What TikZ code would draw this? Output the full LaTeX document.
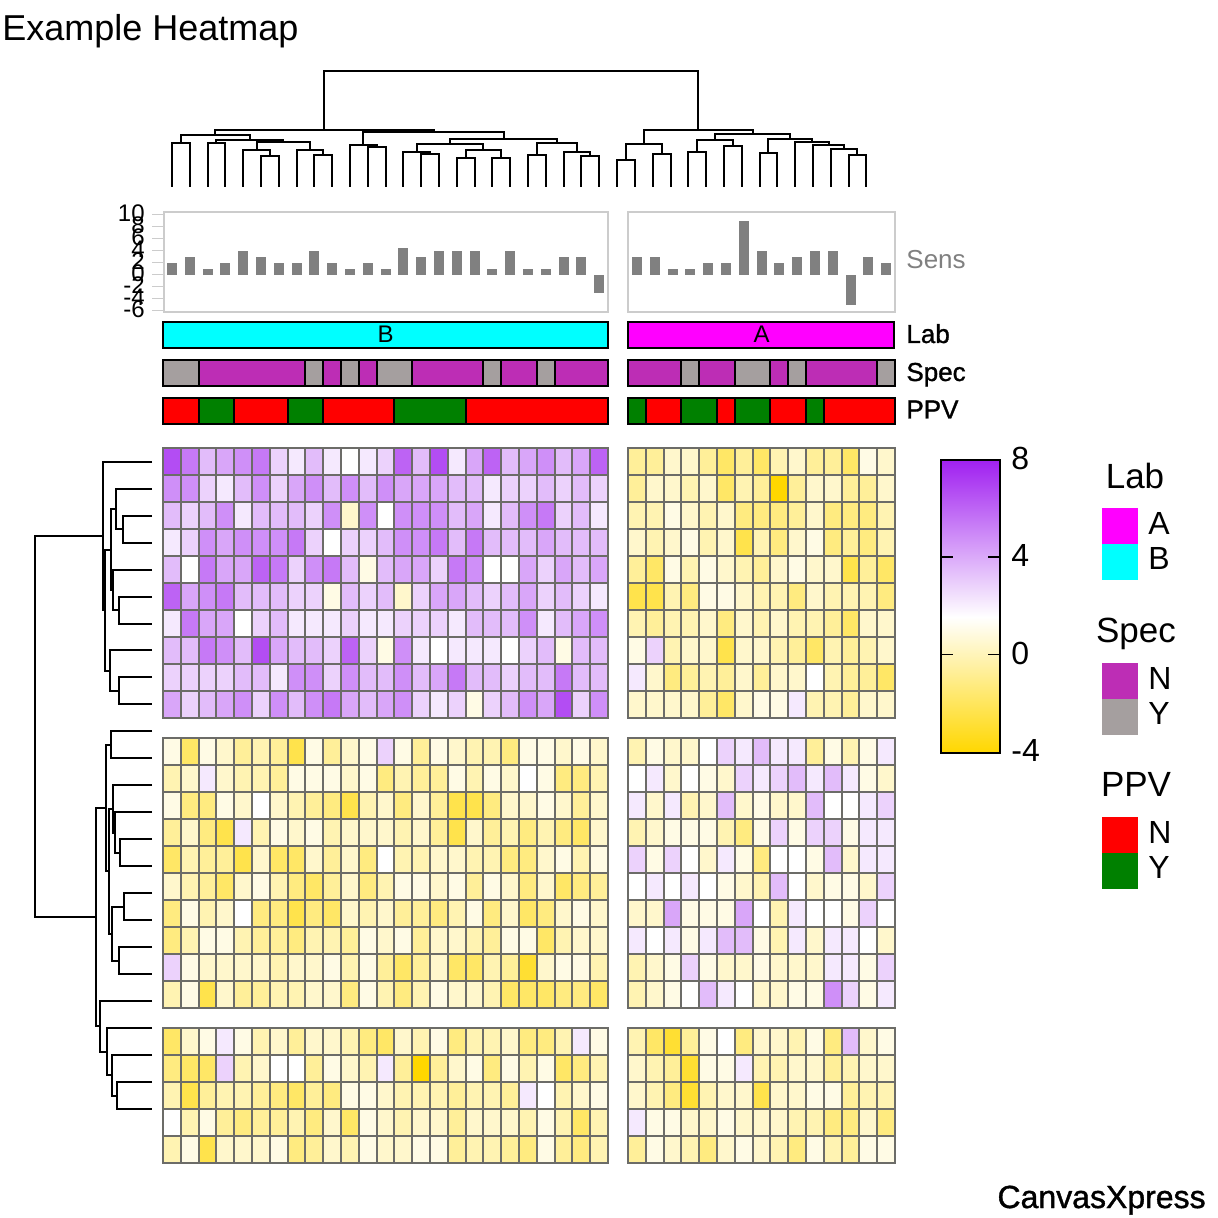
\documentclass[tikz,border=0pt]{standalone}
\usepackage{fontspec}
\setmainfont{Liberation Sans}
\newfontfamily\heavyfont[FakeBold=1.2]{Liberation Sans}

\definecolor{hpurple}{HTML}{A020F0}
\definecolor{hgold}{HTML}{FFD700}
\definecolor{cellgrey}{HTML}{6C6C68}
\definecolor{labA}{HTML}{FF00FF}
\definecolor{labB}{HTML}{00FFFF}
\definecolor{specN}{HTML}{BD2DB5}
\definecolor{specY}{HTML}{A59F9F}
\definecolor{ppvN}{HTML}{FF0000}
\definecolor{ppvY}{HTML}{008000}
\definecolor{framegrey}{HTML}{CCCCCC}
\definecolor{bargrey}{HTML}{808080}

\tikzset{
    dendro/.style={line width=1pt},
    annot/.style={draw=black, line width=1pt},
    sensframe/.style={draw=framegrey, line width=1pt},
    txt/.style={inner sep=0pt, anchor=base west},
}

% one block of the heatmap: left, top, rows (level -10..10, below 0 is gold)
\newcommand{\heatblock}[3]{
    \foreach \row [count=\r from 0] in {#3} {
        \foreach \v [count=\c from 0] in \row {
            \pgfmathtruncatemacro{\lvl}{abs(\v)*10}
            \ifnum\v<0 \def\hue{hgold}\else \def\hue{hpurple}\fi
            \filldraw[fill=\hue!\lvl!white, draw=cellgrey, line width=1pt]
                ({#1+17.8*\c},{#2+27*\r}) rectangle ({#1+17.8*(\c+1)},{#2+27*(\r+1)});
        }
    }
}
% one annotation strip: left, top, bottom, segments first/last/colour
\newcommand{\annotbar}[4]{
    \foreach \a/\b/\col in {#4}
        \filldraw[annot, fill=\col] ({#1+17.8*\a},#2) rectangle ({#1+17.8*\b},#3);
}
% bars of the Sens panel: left, values
\newcommand{\sensbars}[2]{
    \foreach \v [count=\c from 0] in {#2}
        \fill[bargrey] ({#1+8.9+17.8*\c-5},274.7) rectangle ({#1+8.9+17.8*\c+5},{274.7-6*\v});
}

\begin{document}
\begin{tikzpicture}[x=0.5pt, y=-0.5pt]
    \useasboundingbox (0,0) rectangle (1218,1218);

    % title
    \node[txt] (title) at (2,41) {\fontsize{18pt}{20pt}\selectfont Example Heatmap};
    \node[txt, anchor=base east] (brand) at (1206,1208) {\fontsize{16pt}{18pt}\heavyfont CanvasXpress};

    % column dendrogram
    \foreach \xa/\ya/\xb/\yb/\yt in {
        324/130/698/129.7/70.7,
        215/135/433.5/131.7/130, 181/143/249.5/140/135,
        172/187/190/187/143, 207.5/187/225/187/143,
        216/143/283/142/140, 256.5/150/310/150/142,
        243.1/187/269.8/156/150, 260.9/187/278.7/187/156,
        296.5/187/323.2/155/150, 314.3/187/332.1/187/155,
        363/145/504/139/131.7, 349.9/187/376.6/147/145, 367.7/187/385.5/187/147,
        450/144/557/143/139, 416.6/151.7/483.4/150/144,
        403.3/187/430/153.7/151.7, 421.1/187/438.9/187/153.7,
        465.6/158/501.2/158/150, 456.7/187/474.5/187/158, 492.3/187/510.1/187/158,
        536.8/155/577/152.3/143, 527.9/187/545.7/187/155,
        563.5/187/590.2/155.7/152.3, 581.3/187/599.1/187/155.7,
        643.8/143.7/752.7/134.3/129.7, 626/160/661.6/153.7/143.7,
        617/187/635/187/160, 652.7/187/670.5/187/153.7,
        715/140.3/790/138.7/134.3, 697/151.7/733/146.3/140.3,
        688.3/187/706.1/187/151.7, 723.9/187/741.7/187/146.3,
        768.4/153.3/811.8/142/138.7, 759.5/187/777.3/187/153.3,
        795.1/187/828.5/145.3/142, 812.9/187/844/148.7/145.3,
        830.7/187/857.4/155.3/148.7, 848.5/187/866.3/187/155.3}
        \draw[dendro] (\xa,\ya) -- (\xa,\yt) -- (\xb,\yt) -- (\xb,\yb);

    % Sens panel
    \draw[sensframe] (163.5,212.5) rectangle (608,312.5);
    \draw[sensframe] (628,212.5) rectangle (895,312.5);
    \foreach \lab [count=\i from 0] in {10,8,6,4,2,0,-2,-4,-6} {
        \draw[framegrey, line width=0.8pt] (152,{214.7+12*\i}) -- (163,{214.7+12*\i});
        \node[inner sep=0pt, anchor=mid east] (tick\i) at (145,{216.7+12*\i}) {\fontsize{12pt}{14pt}\selectfont \lab};
    }
    \sensbars{163}{2,3,1,2,4,3,2,2,4,2,1,2,1,4.5,3,4,4,4,1,4,1,1,3,3,-3}
    \sensbars{628}{3,3,1,1,2,2,9,4,2,3,4,4,-5,3,2}
    \node[txt, bargrey] (senslab) at (906,269) {\fontsize{13pt}{15pt}\selectfont Sens};

    % Lab strip
    \filldraw[annot, fill=labB] (163,321.7) rectangle (608,347.7);
    \filldraw[annot, fill=labA] (628,321.7) rectangle (894,347.7);
    \node[txt, anchor=base] (labBtext) at (385.7,342.7) {\fontsize{12pt}{14pt}\selectfont B};
    \node[txt, anchor=base] (labAtext) at (761.7,342.7) {\fontsize{12pt}{14pt}\selectfont A};
    \node[txt] (lablab) at (906,343) {\fontsize{13pt}{15pt}\heavyfont Lab};

    % Spec strip
    \annotbar{163}{360}{386}{0/2/specY, 2/8/specN, 8/9/specY, 9/10/specN, 10/11/specY, 11/12/specN,
        12/14/specY, 14/18/specN, 18/19/specY, 19/21/specN, 21/22/specY, 22/25/specN}
    \annotbar{628}{360}{386}{0/3/specN, 3/4/specY, 4/6/specN, 6/8/specY, 8/9/specN, 9/10/specY, 10/14/specN, 14/15/specY}
    \draw[line width=1.4pt] (305,360) -- (305,386);
    \node[txt] (speclab) at (906,381) {\fontsize{13pt}{15pt}\heavyfont Spec};

    % PPV strip
    \annotbar{163}{398}{424}{0/2/ppvN, 2/4/ppvY, 4/7/ppvN, 7/9/ppvY, 9/13/ppvN, 13/17/ppvY, 17/25/ppvN}
    \annotbar{628}{398}{424}{0/1/ppvY, 1/3/ppvN, 3/5/ppvY, 5/6/ppvN, 6/8/ppvY, 8/10/ppvN, 10/11/ppvY, 11/15/ppvN}
    \node[txt] (ppvlab) at (906,418.5) {\fontsize{13pt}{15pt}\heavyfont PPV};

    % row dendrogram
    \foreach \ya/\xa/\yb/\xb/\xt in {
        536/102.7/917/96/34.7,
        461.7/152/610/105.3/102.7, 549.5/111/670.5/110.3/105.3,
        509/116.3/590/113/111, 488.5/152/529/123.3/116.3, 515.7/152/542.7/152/123.3,
        569.7/152/610/119.3/113, 596.7/152/623.7/152/119.3,
        650.3/152/690.8/118.7/110.3, 677.3/152/704.3/152/118.7,
        807.7/106/1026/100/96,
        744.7/111/871/108.7/106, 731/152/758.3/152/111,
        809/112.7/933.6/111.7/108.7, 785.3/152/832.5/115/112.7,
        812.3/152/852.8/119.7/115, 839.3/152/866.3/152/119.7,
        906.7/124/960.5/119.3/111.7, 893.3/152/920/152/124, 947/152/974/152/119.3,
        1001.3/152/1051.6/106.7/100, 1028.3/152/1075/111.7/106.7,
        1055/152/1095.5/117/111.7, 1082/152/1109/152/117}
        \draw[dendro] (\xa,\ya) -- (\xt,\ya) -- (\xt,\yb) -- (\xb,\yb);

    % heatmap
    \heatblock{163}{448}{
        {8,6,3,4,5,6,2,1,3,1,0,1,2,7,3,8,1,4,7,3,4,5,3,4,7},
        {5,5,2,1,3,5,2,4,5,3,5,3,5,4,4,4,3,3,1,2,2,3,2,3,2},
        {3,2,3,5,1,3,3,3,2,5,-2,5,0,5,5,5,3,4,1,3,5,6,2,3,1},
        {1,2,5,4,5,5,5,6,2,0,2,2,3,5,5,6,3,6,3,3,3,4,3,3,3},
        {3,0,6,4,4,7,6,2,5,6,3,-1,3,4,4,2,6,5,0,0,4,2,4,3,4},
        {7,4,5,6,3,3,3,2,2,-1,3,2,3,-2,2,4,4,3,2,3,4,2,3,2,1},
        {1,6,4,4,0,2,3,1,1,1,2,1,1,2,2,2,1,3,3,3,5,1,3,4,5},
        {3,3,6,5,3,8,4,3,3,2,7,2,-1,5,1,0,1,1,1,0,2,3,-1,3,3},
        {2,2,2,2,3,3,1,5,5,2,5,3,3,5,3,4,6,3,3,2,3,3,6,3,3},
        {4,2,3,4,5,2,5,3,5,6,4,3,4,5,2,1,2,-1,2,3,5,4,8,2,5}}
    \heatblock{628}{448}{
        {-4,-4,-2,-2,-4,-6,-4,-6,-3,-2,-4,-4,-6,-1,-2},
        {-4,-2,-2,-3,-2,-6,-3,-4,-10,-4,-2,-2,-4,-4,-2},
        {-3,-3,-1,-2,-3,-2,-5,-5,-5,-4,-2,-5,-5,-5,-3},
        {-2,-3,-2,-1,-3,-2,-7,-3,-5,-2,-1,-5,-4,-5,-3},
        {-4,-6,-1,-3,-1,-2,-3,-4,-2,-1,-2,-2,-7,-4,-6},
        {-7,-7,-3,-5,-1,-1,-2,-3,-3,-5,-2,-3,-3,-3,-5},
        {-3,-4,-3,-3,-2,-5,-2,-3,-2,-3,-3,-4,-6,-2,-2},
        {-1,2,-3,-2,-2,-7,-2,-2,-3,-4,-6,-3,-4,-3,-2},
        {1,-2,-5,-4,-3,-4,-2,-4,-2,-2,0,-3,-4,-4,-6},
        {-2,-2,-2,-2,-4,-6,-2,-1,-1,1,-3,-3,-4,-2,-2}}
    \heatblock{163}{738}{
        {-1,-6,-1,-2,-4,-3,-4,-7,-1,-4,-2,-1,2,-1,-4,-1,-2,-3,-3,-5,-1,-1,-2,-1,-2},
        {-3,-2,1,-2,-3,-3,-4,-1,-1,-1,-2,-1,-5,-3,-4,-4,-1,-3,-1,-2,0,-1,-5,-5,-3},
        {-1,-5,-5,-1,-2,0,-2,-3,-4,-5,-7,-3,-2,-5,-2,-4,-7,-7,-5,-2,-2,-1,-2,-4,-2},
        {-4,-2,-5,-7,1,-3,-1,-2,-1,-3,-2,-2,-2,-3,-2,-4,-7,-2,-4,-3,-5,-3,-5,-6,-2},
        {-6,-3,-4,-4,-7,-2,-6,-6,-2,-4,-2,-5,0,-3,-3,-2,-2,-3,-3,-5,-5,-2,-1,-3,-1},
        {-2,-3,-4,-6,-2,-1,-3,-5,-6,-4,-2,-5,-3,-1,-1,-2,-1,-4,-1,-2,-5,-2,-6,-5,-4},
        {-5,-1,-3,-2,0,-5,-5,-7,-5,-6,-2,-3,-2,-4,-4,-5,-3,-1,-5,-2,-6,-5,-2,-1,-2},
        {-5,-3,-1,-1,-3,-4,-4,-5,-3,-3,-4,-1,-2,-1,-4,-2,-2,-3,-4,-1,-1,-6,-3,-2,-2},
        {2,-1,-2,-2,-2,-2,-3,-2,-2,-1,-3,-1,-4,-6,-4,-2,-6,-6,-3,-4,-8,-2,-1,-1,-3},
        {-3,-1,-7,-2,-4,-4,-3,-3,-2,-2,-5,-1,-3,-5,-3,-1,-2,-2,-3,-6,-6,-6,-5,-5,-6}}
    \heatblock{628}{738}{
        {-3,-1,-2,-2,0,2,1,3,1,1,-4,-1,-3,-1,1},
        {0,1,-2,0,-1,-2,2,1,2,3,1,3,1,-1,-2},
        {1,-2,1,-3,-2,3,-2,-1,-2,-2,3,0,0,1,2},
        {-3,-2,-1,-1,-1,-3,-5,-1,2,-1,2,2,-1,1,1},
        {2,-1,2,0,-2,1,-1,-5,0,0,-1,3,-2,1,1},
        {0,1,0,1,0,-1,-2,-3,3,0,-2,-1,-1,-2,2},
        {-2,-2,4,-1,-1,-1,4,0,-3,1,0,0,-1,2,0},
        {1,0,1,-1,1,3,3,-1,-3,1,-2,1,1,0,-2},
        {-3,-2,-1,2,-1,-2,-2,-1,-2,-2,-2,1,1,-1,2},
        {-3,-2,-1,0,3,1,0,-2,-2,-1,-1,5,2,-1,1}}
    \heatblock{163}{1028}{
        {-6,-2,-1,1,-1,-3,-2,-4,-2,-2,-3,-5,-6,-2,-3,-1,-5,-3,-3,-2,-5,-5,-3,1,-1},
        {-5,-6,-6,2,-3,-2,0,0,-4,-1,-2,-3,1,-4,-10,-4,-2,-1,-5,-1,-3,-1,-6,-5,-3},
        {-3,-7,-4,-3,-3,-4,-5,-6,-4,-5,-1,-1,-2,-3,-3,-3,-4,-3,-3,-4,1,0,-3,-2,-1},
        {0,-3,-1,-4,-5,-4,-4,-3,-5,-2,-6,-1,-2,-3,-2,-2,-4,-2,-2,-2,-3,-1,-3,-6,-3},
        {-3,-1,-7,-2,-2,-2,-1,-5,-4,-2,-3,-1,-2,-2,-1,-1,-4,-3,-3,-4,-5,-1,-4,-5,-3}}
    \heatblock{628}{1028}{
        {-3,-6,-8,-4,-1,0,-5,-2,-2,-3,-1,-5,3,-2,-1},
        {-2,-3,-4,-8,-1,-1,1,-3,-3,-2,-2,-4,-3,-2,-2},
        {-2,-3,-5,-8,-3,-2,-2,-7,-2,-2,-1,-1,-4,-3,-3},
        {1,-1,-1,-2,-2,-1,-2,-2,-2,-3,-3,-5,-5,-2,-5},
        {-4,-1,-2,-3,-5,-2,-1,-2,-3,-5,-1,-3,-4,-1,-1}}

    % colour scale
    \shade[top color=hpurple, bottom color=white] (941.3,459.7) rectangle (1000,617);
    \shade[top color=white, bottom color=hgold] (941.3,617) rectangle (1000,752.7);
    \draw[line width=0.85pt] (941.3,459.7) rectangle (1000,752.7);
    \foreach \ty in {557,654.3} {
        \draw[line width=0.8pt] (941.3,\ty) -- (953,\ty);
        \draw[line width=0.8pt] (988,\ty) -- (1000,\ty);
    }
    \foreach \lab/\by in {8/469.3,4/566.5,0/664,-4/761}
        \node[txt] (scale\by) at (1011,\by) {\fontsize{16pt}{18pt}\selectfont \lab};

    % legends
    \foreach \name/\bx/\by in {Lab/1135/488.5,Spec/1136/642,PPV/1136/796}
        \node[txt, anchor=base] (leg\name) at (\bx,\by) {\fontsize{17.5pt}{20pt}\selectfont \name};
    \foreach \ty/\col/\lab/\by in {508/labA/A/534, 544.3/labB/B/569.5, 662.7/specN/N/689, 698.7/specY/Y/724,
        817.3/ppvN/N/843, 853.3/ppvY/Y/878.5} {
        \fill[\col] (1101.7,\ty) rectangle (1137.7,\ty+36);
        \node[txt] (key\ty) at (1148,\by) {\fontsize{16pt}{18pt}\selectfont \lab};
    }
\end{tikzpicture}
\end{document}
